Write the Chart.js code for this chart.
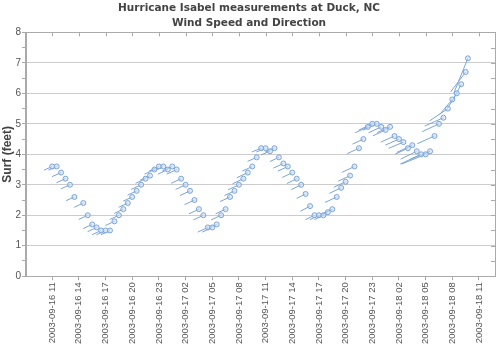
<!DOCTYPE html>
<html>
<head>
<meta charset="utf-8">
<script src="https://cdn.jsdelivr.net/npm/chart.js@4/dist/chart.umd.min.js"></script>
<style>
  html, body { margin: 0; padding: 0; background: #fff; }
  #wrap { width: 500px; height: 350px; }
</style>
</head>
<body>
<div id="wrap"><canvas id="isabelChart" width="500" height="350"></canvas></div>
<script>
// hours since 2003-09-16 00:00
var hours = [
    11, 11.5, 12, 12.5, 13, 13.5,
    14.5, 15, 15.5, 16, 16.5, 17, 17.5, 18, 18.5, 19,
    19.5, 20, 20.5, 21, 21.5, 22, 22.5, 23, 23.5, 24,
    24.5, 25, 25.5, 26, 26.5, 27, 27.5, 28, 28.5, 29,
    29.5, 30, 30.5, 31, 31.5, 32, 32.5, 33, 33.5, 34,
    34.5, 35, 35.5, 36, 36.5, 37, 37.5, 38, 38.5, 39,
    39.5, 40, 40.5, 41, 41.5, 42, 42.5, 43, 43.5, 44,
    44.5, 45, 45.5, 46, 46.5, 47, 47.5, 48, 48.5, 49,
    49.5, 50, 50.5, 51, 51.5, 52, 52.5, 53, 53.5, 54,
    54.5, 55, 55.5, 56, 56.5, 57, 57.5, 57.75
];

// surf height (feet)
var surf = [
    3.6, 3.6, 3.4, 3.2, 3.0, 2.6,
    2.4, 2.0, 1.7, 1.6, 1.5, 1.5, 1.5, 1.8, 2.0, 2.2,
    2.4, 2.6, 2.8, 3.0, 3.2, 3.3, 3.5, 3.6, 3.6, 3.5,
    3.6, 3.5, 3.2, 3.0, 2.8, 2.5, 2.2, 2.0, 1.6, 1.6,
    1.7, 2.0, 2.2, 2.6, 2.8, 3.0, 3.2, 3.4, 3.6, 3.9,
    4.2, 4.2, 4.1, 4.2, 3.9, 3.7, 3.6, 3.4, 3.2, 3.0,
    2.7, 2.3, 2.0, 2.0, 2.0, 2.1, 2.2, 2.6, 2.9, 3.1,
    3.3, 3.6, 4.2, 4.5, 4.9, 5.0, 5.0, 4.9, 4.8, 4.9,
    4.6, 4.5, 4.4, 4.2, 4.3, 4.1, 4.0, 4.0, 4.1, 4.6,
    5.0, 5.2, 5.5, 5.8, 6.0, 6.3, 6.7, 7.15
];

// wind speed (knots)
var windSpeed = [
    18, 18, 20, 20, 20, 18,
    20, 20, 20, 20, 20, 20, 20, 20, 20, 20,
    20, 20, 20, 22, 22, 22, 22, 22, 22, 22,
    22, 22, 22, 22, 22, 22, 22, 22, 22, 22,
    22, 22, 22, 22, 22, 24, 24, 24, 22, 20,
    20, 20, 20, 20, 20, 22, 22, 22, 22, 22,
    20, 22, 20, 20, 20, 22, 24, 26, 26, 26,
    26, 28, 26, 24, 28, 30, 30, 28, 28, 28,
    30, 30, 32, 28, 34, 36, 46, 52, 44, 38,
    37, 41, 44, 40, 35, 42, 50, 75
];

// wind vector angle (degrees, counter-clockwise from east)
var windAngle = [
    24, 24, 24, 24, 24, 24,
    25, 25, 25, 25, 25, 25, 25, 25, 25, 25,
    25, 25, 25, 25, 25, 25, 25, 25, 25, 25,
    25, 25, 25, 25, 25, 25, 25, 25, 25, 25,
    25, 25, 25, 25, 25, 25, 25, 25, 25, 24,
    22, 22, 22, 22, 25, 25, 25, 26, 26, 26,
    27, 28, 26, 26, 26, 25, 25, 25, 25, 25,
    25, 25, 25, 25, 25, 25, 25, 25, 25, 24,
    24, 24, 23, 25, 25, 26, 25, 22, 22, 24,
    25, 24, 34, 50, 58, 62, 53, 68
];

// x axis tick labels every 3 hours
var tickHours = [11, 14, 17, 20, 23, 26, 29, 32, 35, 38, 41, 44, 47, 50, 53, 56, 59];

var blue = 'rgb(122,164,216)';

function formatHour(h) {
    var day = 16 + Math.floor(h / 24);
    var hh = h % 24;
    return '2003-09-' + day + ' ' + (hh < 10 ? '0' + hh : hh);
}

// wind vectors drawn behind the points
var windVectors = {
    id: 'windVectors',
    beforeDatasetsDraw: function (chart) {
        var c = chart.ctx;
        var xs = chart.scales.x, ys = chart.scales.y;
        c.save();
        c.strokeStyle = blue;
        c.lineWidth = 1;
        for (var i = 0; i < hours.length; i++) {
            var px = xs.getPixelForValue(hours[i]);
            var py = ys.getPixelForValue(surf[i]);
            var len = windSpeed[i] * 0.5;
            var a = windAngle[i] * Math.PI / 180;
            c.beginPath();
            c.moveTo(px, py);
            c.lineTo(px - len * Math.cos(a), py + len * Math.sin(a));
            c.stroke();
        }
        c.restore();
    }
};

// frame round the plot with inward ticks on top and right
var plotFrame = {
    id: 'plotFrame',
    afterDraw: function (chart) {
        var c = chart.ctx, area = chart.chartArea;
        var xs = chart.scales.x, ys = chart.scales.y;
        c.save();
        c.strokeStyle = '#aaa';
        c.lineWidth = 1;
        c.strokeRect(Math.round(area.left) + 0.5, Math.round(area.top) + 0.5,
            Math.round(area.right - area.left), Math.round(area.bottom - area.top));
        c.beginPath();
        tickHours.forEach(function (h) {
            var x = Math.round(xs.getPixelForValue(h)) + 0.5;
            c.moveTo(x, area.top);
            c.lineTo(x, area.top + 4);
        });
        for (var v = 0; v <= 8; v += 0.5) {
            var y = Math.round(ys.getPixelForValue(v)) + 0.5;
            c.moveTo(area.right, y);
            c.lineTo(area.right - 4, y);
        }
        c.stroke();
        c.restore();
    }
};

var ctx = document.getElementById('isabelChart').getContext('2d');

new Chart(ctx, {
    type: 'scatter',
    data: {
        datasets: [{
            label: 'Surf',
            data: hours.map((h, i) => ({ x: h, y: surf[i] })),
            pointRadius: 2.5,
            pointBorderWidth: 1,
            pointBorderColor: blue,
            pointBackgroundColor: 'rgba(205,222,245,0.6)',
            showLine: false
        }]
    },
    options: {
        responsive: false,
        animation: false,
        layout: {
            padding: { left: 0, right: 2, top: 0, bottom: 4 }
        },
        plugins: {
            legend: { display: false },
            tooltip: { enabled: false },
            title: {
                display: true,
                text: ['Hurricane Isabel measurements at Duck, NC', 'Wind Speed and Direction'],
                color: '#444',
                font: { family: 'DejaVu Sans', size: 10.5, weight: 'bold', lineHeight: 1.4 },
                padding: { top: 1, bottom: 2 }
            }
        },
        scales: {
            x: {
                type: 'linear',
                min: 8.05,
                max: 60.8,
                afterBuildTicks: function (scale) {
                    scale.ticks = tickHours.map(h => ({ value: h }));
                },
                ticks: {
                    autoSkip: false,
                    minRotation: 90,
                    maxRotation: 90,
                    padding: 2,
                    color: '#555',
                    font: { family: 'Liberation Sans', size: 9.5 },
                    callback: function (value) {
                        return formatHour(value);
                    }
                },
                grid: {
                    drawOnChartArea: false,
                    tickLength: 4,
                    color: '#aaa'
                },
                border: { color: '#aaa' }
            },
            y: {
                min: 0,
                max: 8,
                afterBuildTicks: function (scale) {
                    var t = [];
                    for (var v = 0; v <= 8; v += 0.5) t.push({ value: v });
                    scale.ticks = t;
                },
                ticks: {
                    autoSkip: false,
                    padding: 1,
                    color: '#555',
                    font: { family: 'Liberation Sans', size: 10 },
                    callback: function (value) {
                        return Number.isInteger(value) ? value : '';
                    }
                },
                grid: {
                    tickLength: 4,
                    color: function (c) {
                        return Number.isInteger(c.tick.value) ? '#ccc' : 'rgba(0,0,0,0)';
                    },
                    tickColor: '#aaa'
                },
                border: { color: '#aaa' },
                title: {
                    display: true,
                    text: 'Surf (feet)',
                    color: '#444',
                    font: { family: 'Liberation Sans', size: 12, weight: 'bold' },
                    padding: { top: 0, bottom: 0 }
                }
            }
        }
    },
    plugins: [windVectors, plotFrame]
});
</script>
</body>
</html>
